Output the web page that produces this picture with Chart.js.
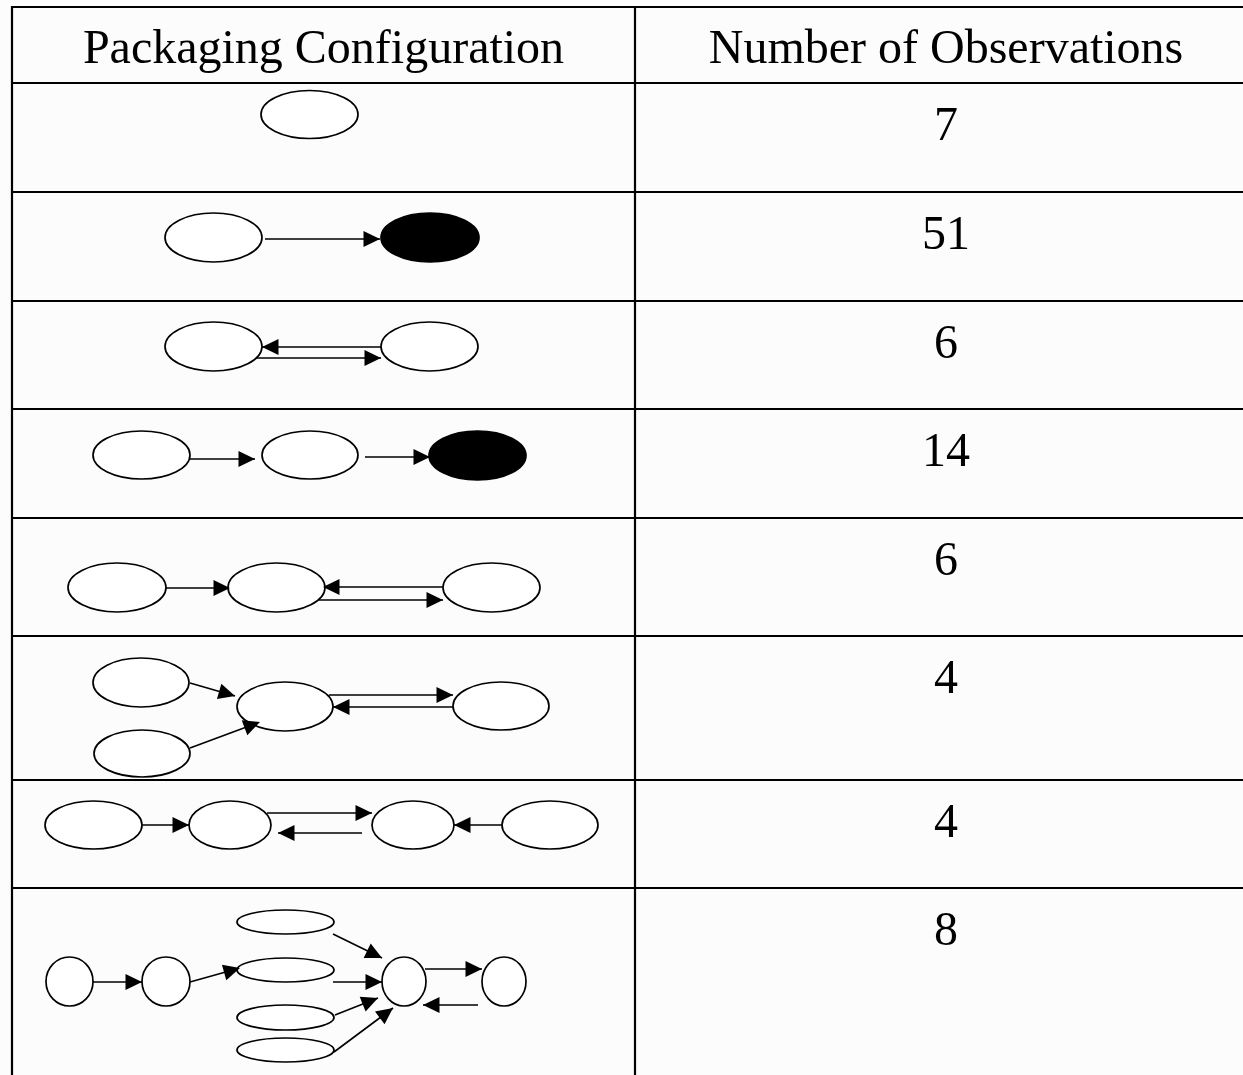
<!DOCTYPE html>
<html>
<head>
<meta charset="utf-8">
<script src="https://cdn.jsdelivr.net/npm/chart.js@4.4.1/dist/chart.umd.min.js"></script>
<style>
  html, body { margin: 0; padding: 0; background: #fcfcfc; }
  #wrap { width: 1243px; height: 1075px; }
</style>
</head>
<body>
<div id="wrap"><canvas id="c" width="1243" height="1075"></canvas></div>
<script>
// ---------------- DATA ----------------
const columnHeaders = ['Packaging Configuration', 'Number of Observations'];
const configurations = ['Configuration 1', 'Configuration 2', 'Configuration 3', 'Configuration 4',
                        'Configuration 5', 'Configuration 6', 'Configuration 7', 'Configuration 8'];
const observations = [7, 51, 6, 14, 6, 4, 4, 8];
// node kind per configuration: false = open ellipse, true = filled ellipse
const nodeFilled = [
  [false],
  [false, true],
  [false, false],
  [false, false, true],
  [false, false, false],
  [false, false, false, false],
  [false, false, false, false],
  [false, false, false, false, false, false, false, false]
];
// directed links per configuration: [fromNode, toNode]
const nodeLinks = [
  [],
  [[0, 1]],
  [[1, 0], [0, 1]],
  [[0, 1], [1, 2]],
  [[0, 1], [2, 1], [1, 2]],
  [[0, 2], [1, 2], [2, 3], [3, 2]],
  [[0, 1], [1, 2], [2, 1], [3, 2]],
  [[0, 1], [1, 3], [2, 6], [3, 6], [4, 6], [5, 6], [6, 7], [7, 6]]
];

// ---------------- LAYOUT (drawing units of the linear scales) ----------------
const layout = {
  width: 1243, height: 1075,
  rowLines: [7, 83, 192, 301, 409, 518, 636, 780, 888],
  colLines: [12, 635],
  rightEdge: 1257,
  textOffset: 57,
  // ellipse geometry per node: [cx, cy, rx, ry]
  nodes: [
    [[309.5, 114.5, 48.5, 24]],
    [[213.5, 237.5, 48.5, 24.5], [430, 237.5, 49, 24.5]],
    [[213.5, 346.5, 48.5, 24.5], [429.5, 346.5, 48.5, 24.5]],
    [[141.5, 455, 48.5, 24], [310, 455, 48, 24], [477.5, 455.5, 48.5, 24.5]],
    [[117, 587.5, 49, 24.5], [276.5, 587.5, 48.5, 24.5], [491.5, 587.5, 48.5, 24.5]],
    [[141, 682.5, 48, 24.5], [142, 753.5, 48, 23.5], [285, 706.5, 48, 24.5], [501, 706, 48, 24]],
    [[93.5, 825, 48.5, 24], [230, 825, 41, 24], [413, 825, 41, 24], [550, 825, 48, 24]],
    [[69.5, 981.5, 23.5, 24.5], [166, 981.5, 24, 24.5], [285.5, 922, 48.5, 12], [285.5, 970, 48.5, 12],
     [285.5, 1017.5, 48.5, 12.5], [285.5, 1050, 48.5, 12], [404, 981.5, 22, 24.5], [504, 981.5, 22, 24.5]]
  ],
  // arrow geometry per link: [x1, y1, x2(tip), y2(tip)]
  links: [
    [],
    [[265, 239, 380, 239]],
    [[381, 347, 262, 347], [257, 358, 381, 358]],
    [[190, 459, 255, 459], [365, 457, 430, 457]],
    [[166, 588, 230, 588], [443, 587, 323, 587], [319, 600, 443, 600]],
    [[190, 683, 235, 696], [190, 748, 260, 722], [329, 695, 453, 695], [453, 707, 333, 707]],
    [[142, 825, 189, 825], [267, 813, 372, 813], [362, 833, 278, 833], [502, 825, 454, 825]],
    [[93, 982, 142, 982], [190, 982, 240, 968], [333, 934, 382, 958], [333, 982, 382, 982],
     [335, 1015, 378, 998], [334, 1052, 393, 1008], [425, 969, 482, 969], [478, 1005, 423, 1005]]
  ]
};

const FONT = '48px "Liberation Serif", "Times New Roman", serif';

// ---------------- DATASETS ----------------
const nodePoints = [];
const nodeMeta = [];
layout.nodes.forEach((list, r) => list.forEach((g, i) => {
  nodePoints.push({ x: g[0], y: g[1] });
  nodeMeta.push({ rx: g[2], ry: g[3], filled: nodeFilled[r][i] });
}));

const datasets = [{
  label: 'nodes', data: nodePoints, pointRadius: 0, pointHoverRadius: 0, showLine: false
}];
nodeLinks.forEach((links, r) => links.forEach((lk, i) => {
  const g = layout.links[r][i];
  datasets.push({
    label: configurations[r] + ' link ' + lk[0] + '-' + lk[1],
    data: [{ x: g[0], y: g[1] }, { x: g[2], y: g[3] }],
    showLine: true, borderColor: '#000', borderWidth: 1.6,
    pointRadius: 0, pointHoverRadius: 0, fill: false, tension: 0, isLink: true
  });
}));

// ---------------- PLUGIN ----------------
const tablePlugin = {
  id: 'tablePlugin',
  beforeDraw(chart) {
    const { ctx } = chart;
    ctx.save();
    ctx.fillStyle = '#fcfcfc';
    ctx.fillRect(0, 0, chart.width, chart.height);
    ctx.restore();
  },
  beforeDatasetsDraw(chart) {
    const { ctx, scales: { x, y } } = chart;
    ctx.save();
    ctx.strokeStyle = '#000';
    ctx.lineWidth = 2.2;
    ctx.lineCap = 'butt';
    const x0 = x.getPixelForValue(layout.colLines[0]);
    const x1 = x.getPixelForValue(layout.width);
    layout.rowLines.forEach(v => {
      const py = y.getPixelForValue(v);
      ctx.beginPath(); ctx.moveTo(x0 - 1, py); ctx.lineTo(x1, py); ctx.stroke();
    });
    layout.colLines.forEach(v => {
      const px = x.getPixelForValue(v);
      ctx.beginPath();
      ctx.moveTo(px, y.getPixelForValue(layout.rowLines[0]) - 1);
      ctx.lineTo(px, y.getPixelForValue(layout.height));
      ctx.stroke();
    });
    ctx.restore();
  },
  afterDatasetsDraw(chart) {
    const { ctx, scales: { x, y } } = chart;
    ctx.save();
    // ellipses
    const meta = chart.getDatasetMeta(0);
    meta.data.forEach((el, i) => {
      const m = nodeMeta[i];
      const rx = Math.abs(x.getPixelForValue(nodePoints[i].x + m.rx) - el.x);
      const ry = Math.abs(y.getPixelForValue(nodePoints[i].y + m.ry) - el.y);
      ctx.beginPath();
      ctx.ellipse(el.x, el.y, rx, ry, 0, 0, Math.PI * 2);
      ctx.fillStyle = m.filled ? '#000' : '#fff';
      ctx.fill();
      ctx.lineWidth = 1.7;
      ctx.strokeStyle = '#000';
      ctx.stroke();
    });
    // arrowheads
    chart.data.datasets.forEach((ds, di) => {
      if (!ds.isLink) return;
      const pts = chart.getDatasetMeta(di).data;
      const a = pts[0], b = pts[1];
      const ang = Math.atan2(b.y - a.y, b.x - a.x);
      const len = 16.5, hw = 8;
      ctx.beginPath();
      ctx.moveTo(b.x, b.y);
      ctx.lineTo(b.x - len * Math.cos(ang) + hw * Math.sin(ang), b.y - len * Math.sin(ang) - hw * Math.cos(ang));
      ctx.lineTo(b.x - len * Math.cos(ang) - hw * Math.sin(ang), b.y - len * Math.sin(ang) + hw * Math.cos(ang));
      ctx.closePath();
      ctx.fillStyle = '#000';
      ctx.fill();
    });
    // texts
    ctx.fillStyle = '#000';
    ctx.font = FONT;
    ctx.textAlign = 'center';
    ctx.textBaseline = 'alphabetic';
    const leftC = x.getPixelForValue((layout.colLines[0] + layout.colLines[1]) / 2);
    const rightC = x.getPixelForValue((layout.colLines[1] + layout.rightEdge) / 2);
    const hb = y.getPixelForValue(layout.rowLines[0] + layout.textOffset - 1);
    ctx.fillText(columnHeaders[0], leftC, hb);
    ctx.fillText(columnHeaders[1], rightC, hb);
    observations.forEach((v, i) => {
      const by = y.getPixelForValue(layout.rowLines[i + 1] + layout.textOffset);
      ctx.fillText(String(v), rightC, by);
    });
    ctx.restore();
  }
};

new Chart(document.getElementById('c'), {
  type: 'scatter',
  data: { datasets },
  options: {
    responsive: false,
    devicePixelRatio: 1,
    animation: false,
    events: [],
    layout: { padding: 0 },
    plugins: { legend: { display: false }, tooltip: { enabled: false } },
    scales: {
      x: { type: 'linear', min: 0, max: layout.width, display: false },
      y: { type: 'linear', min: 0, max: layout.height, reverse: true, display: false }
    }
  },
  plugins: [tablePlugin]
});
</script>
</body>
</html>
